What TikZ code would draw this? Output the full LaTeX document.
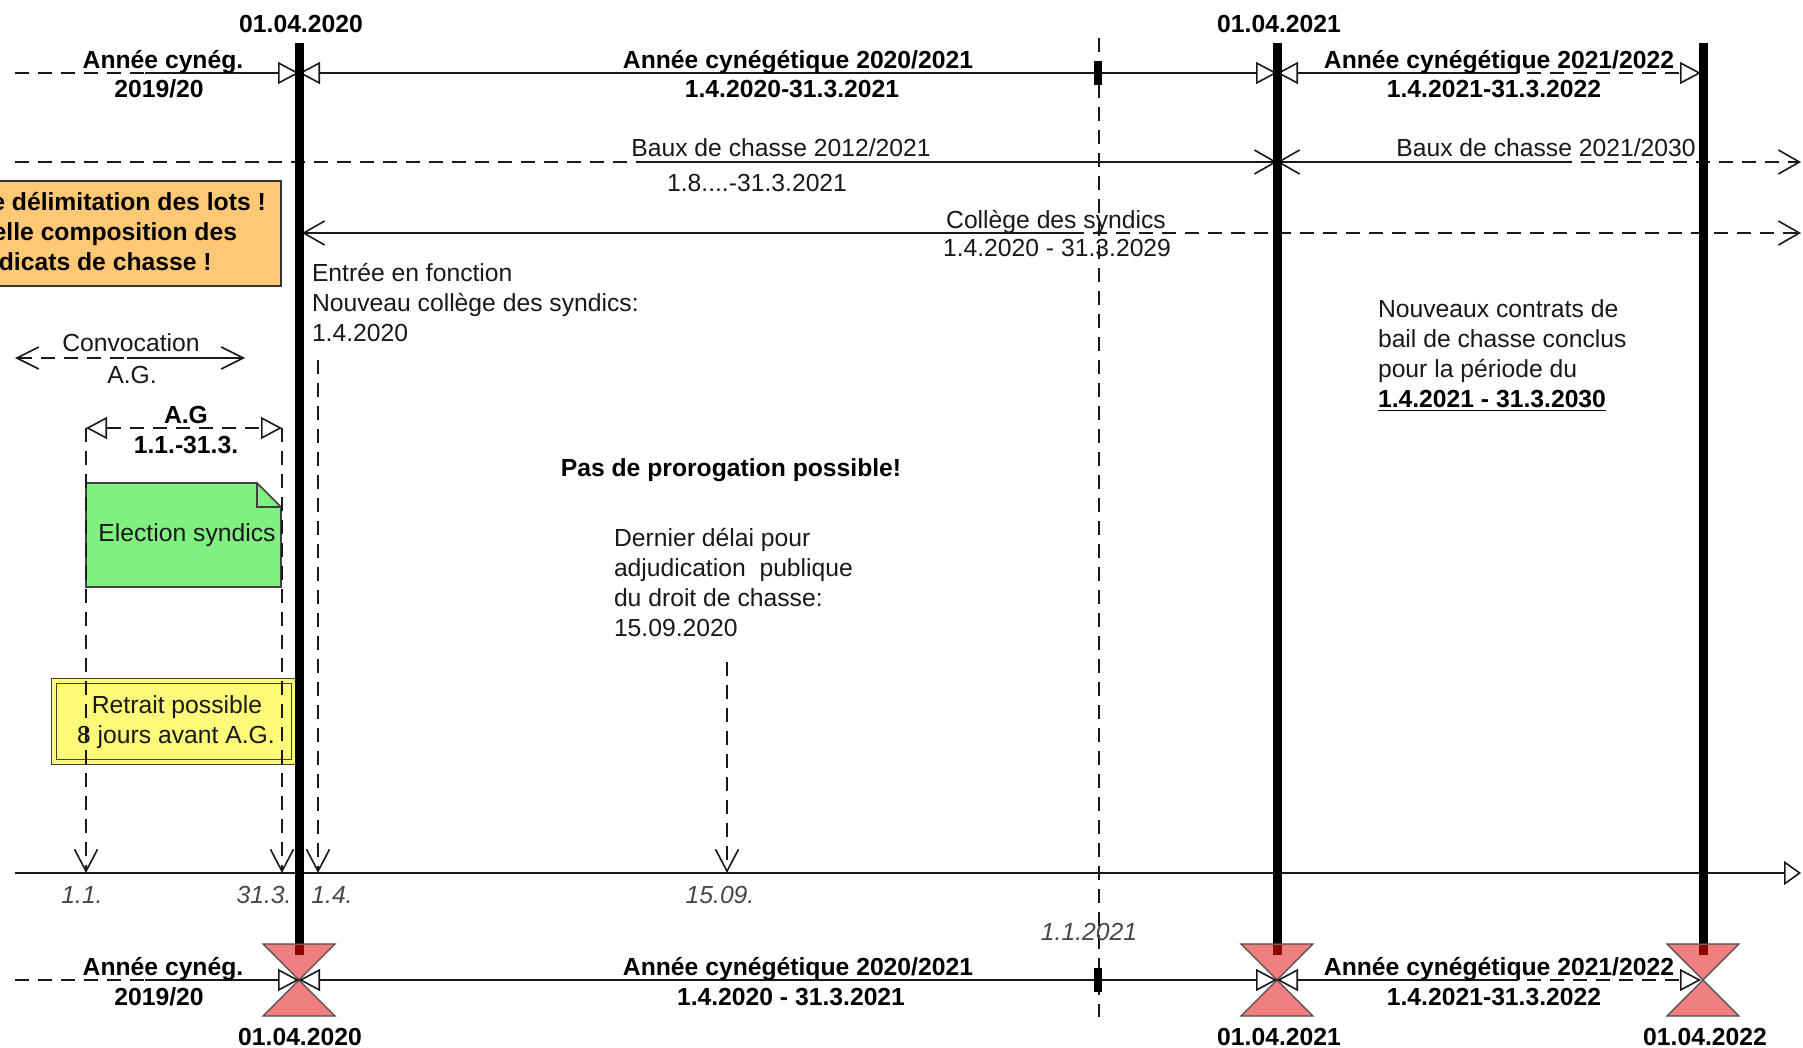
\documentclass[tikz,border=0pt]{standalone}
\usepackage{fontspec}
\setmainfont{Liberation Sans}
\usetikzlibrary{arrows.meta,calc}
\definecolor{orfill}{RGB}{255,200,117}
\definecolor{grfill}{RGB}{128,240,128}
\definecolor{yefill}{RGB}{252,250,120}
\definecolor{hgfill}{RGB}{240,128,128}
\definecolor{darkbar}{RGB}{140,0,0}
\definecolor{txt}{RGB}{25,25,25}
\tikzset{
  every node/.style={inner sep=0pt, outer sep=0pt, text=txt},
  reg/.style={font=\fontsize{24.7}{30}\selectfont, anchor=base},
  regw/.style={reg, anchor=base west},
  bld/.style={font=\fontsize{24.7}{30}\selectfont\bfseries, anchor=base, text=black},
  itl/.style={font=\fontsize{24.7}{30}\selectfont\itshape, anchor=base, text=black!72},
  ln/.style={line width=1.6pt, draw=black!90},
  dsh/.style={ln, dash pattern=on 14pt off 9pt},
  bar/.style={line width=9pt, draw=black},
  boxline/.style={line width=1.6pt, draw=black!80},
  OTri/.tip={Triangle[length=21pt,width=22pt,fill=white]},
  OBarb/.tip={Straight Barb[length=21pt,width=24pt]},
  VBarb/.tip={Straight Barb[length=22pt,width=23pt]},
  ATri/.tip={Triangle[length=17pt,width=24pt,fill=white]},
}
\begin{document}
\begin{tikzpicture}[x=1pt,y=-1pt]
\useasboundingbox (0,0) rectangle (1803,1048);
\clip (0,0) rectangle (1803,1048);
\fill[white] (0,0) rectangle (1803,1048);

% ---------- boxes ----------
\node[boxline, fill=orfill, minimum width=395pt, minimum height=105pt] (orange) at (83.5,233.5) {};
\path[boxline, draw=black!75, fill=grfill] (86,483) -- (257,483) -- (281,507) -- (281,587) -- (86,587) -- cycle;
\draw[line width=1.4pt, draw=black!75] (257,483) -- (257,507) -- (281,507);
\node[draw=black!75, line width=1.4pt, double=yefill, double distance=3.5pt, fill=yefill,
      minimum width=240pt, minimum height=81pt] (yellow) at (174,721.5) {};

% ---------- coordinates ----------
\coordinate (v1t) at (299,43);  \coordinate (v1b) at (299,944);
\coordinate (v2t) at (1277,43); \coordinate (v2b) at (1277,944);
\coordinate (v3t) at (1703,43); \coordinate (v3b) at (1703,944);

\coordinate (r1a) at (15,73);  \coordinate (r1b) at (145,73);  \coordinate (r1c) at (299,73);
\coordinate (r1d) at (1277,73); \coordinate (r1e) at (1504,73); \coordinate (r1f) at (1701,73);

\coordinate (r2a) at (15,162);  \coordinate (r2b) at (640,162); \coordinate (r2c) at (1277,162);
\coordinate (r2d) at (1558,162); \coordinate (r2e) at (1801,162);

\coordinate (r3a) at (302,233); \coordinate (r3b) at (1070,233); \coordinate (r3c) at (1801,233);

\coordinate (r4a) at (15,980);  \coordinate (r4b) at (145,980);  \coordinate (r4c) at (299,980);
\coordinate (r4d) at (1277,980); \coordinate (r4e) at (1504,980); \coordinate (r4f) at (1701,980);

\coordinate (axa) at (15,873); \coordinate (axb) at (1801,873);
\coordinate (cva) at (15,358); \coordinate (cvm) at (127,358); \coordinate (cvb) at (245,358);
\coordinate (aga) at (86,428); \coordinate (agb) at (282,428);
\coordinate (ax1) at (86,873); \coordinate (ax2) at (282,873);
\coordinate (ef) at (318,360); \coordinate (ax3) at (318,873);
\coordinate (d15) at (727,662); \coordinate (ax4) at (727,873);
\coordinate (j1t) at (1099,38); \coordinate (j1b) at (1099,1017);

% ---------- thin dashed marker 1.1.2021 ----------
\draw[dsh, line width=1.3pt] (j1t) -- (j1b);

% ---------- row 1 ----------
\draw[dsh] (r1a) -- (r1b);
\draw[ln,-OTri] (r1b) -- (r1c);
\draw[ln,OTri-OTri] (r1c) -- (r1d);
\draw[ln,OTri-] (r1d) -- (r1e);
\draw[dsh,-OTri] (r1e) -- (r1f);

% ---------- row 2 ----------
\draw[dsh] (r2a) -- (r2b);
\draw[ln,-OBarb] (r2b) -- (r2c);
\draw[ln,OBarb-] (r2c) -- (r2d);
\draw[dsh,-OBarb] (r2d) -- (r2e);

% ---------- row 3 ----------
\draw[ln,OBarb-] (r3a) -- (r3b);
\draw[dsh,-OBarb] (r3b) -- (r3c);

% ---------- convocation / A.G ----------
\draw[dsh,{Straight Barb[length=22pt,width=22pt]}-] (cva) -- (cvm);
\draw[ln,-{Straight Barb[length=22pt,width=22pt]}] (cvm) -- (cvb);
\draw[dsh,OTri-OTri] (aga) -- (agb);
\draw[dsh,-VBarb] (aga) -- (ax1);
\draw[dsh,-VBarb] (agb) -- (ax2);
\draw[dsh,-VBarb] (ef) -- (ax3);
\draw[dsh,-VBarb] (d15) -- (ax4);

% ---------- axis ----------
\draw[ln,-ATri] (axa) -- (axb);

% ---------- thick bars ----------
\draw[bar] (v1t) -- (v1b);
\draw[bar] (v2t) -- (v2b);
\draw[bar] (v3t) -- (v3b);

% ---------- hourglasses ----------
\foreach \hx in {299,1277,1703} {
  \path[draw=black!70, line width=1.2pt, fill=hgfill] ({\hx-36},944) -- ({\hx+36},944) -- (\hx,980) -- cycle;
  \path[draw=black!70, line width=1.2pt, fill=hgfill] (\hx,980) -- ({\hx-36},1016) -- ({\hx+36},1016) -- cycle;
  \draw[line width=9pt, draw=darkbar] (\hx,944.8) -- (\hx,955);
}

% ---------- row 4 ----------
\draw[dsh] (r4a) -- (r4b);
\draw[ln,-OTri] (r4b) -- (r4c);
\draw[ln,OTri-OTri] (r4c) -- (r4d);
\draw[ln,OTri-] (r4d) -- (r4e);
\draw[dsh,-OTri] (r4e) -- (r4f);

% ---------- black marks ----------
\node[fill=black, minimum width=8pt, minimum height=24pt] (mk1) at (1098,73) {};
\node[fill=black, minimum width=8pt, minimum height=24pt] (mk2) at (1098,980) {};

% ---------- texts ----------
\node[bld] (d1) at (301,32.5) {01.04.2020};
\node[bld] (d2) at (1279,32.5) {01.04.2021};

\node[bld] (t1a) at (163,68.5) {Année cynég.};
\node[bld] (t1b) at (159,97.5) {2019/20};
\node[bld] (t2a) at (798,68.5) {Année cynégétique 2020/2021};
\node[bld] (t2b) at (792,97.5) {1.4.2020-31.3.2021};
\node[bld] (t3a) at (1499,68.5) {Année cynégétique 2021/2022};
\node[bld] (t3b) at (1494,97.5) {1.4.2021-31.3.2022};

\node[reg] (b1a) at (781,156.5) {Baux de chasse 2012/2021};
\node[reg] (b1b) at (757,191.5) {1.8....-31.3.2021};
\node[reg] (b2a) at (1546,156.5) {Baux de chasse 2021/2030};
\node[reg] (c1a) at (1056,228.5) {Collège des syndics};
\node[reg] (c1b) at (1057,256.5) {1.4.2020 - 31.3.2029};

\node[bld] (o1) at (84,210.5) {Nouvelle délimitation des lots !};
\node[bld] (o2) at (84,240.5) {Nouvelle composition des};
\node[bld] (o3) at (84,270.5) {syndicats de chasse !};

\node[regw] (e1) at (312,281.5) {Entrée en fonction};
\node[regw] (e2) at (312,311.5) {Nouveau collège des syndics:};
\node[regw] (e3) at (312,341.5) {1.4.2020};

\node[reg] (cv1) at (131,351.5) {Convocation};
\node[reg] (cv2) at (132,383.5) {A.G.};
\node[bld] (ag1) at (186,423.5) {A.G};
\node[bld] (ag2) at (186,453.5) {1.1.-31.3.};

\node[reg] (el) at (187,541.5) {Election syndics};
\node[reg] (y1) at (177,713.5) {Retrait possible};
\node[reg] (y2) at (176,743.5) {8 jours avant A.G.};

\node[bld] (pp) at (731,476.5) {Pas de prorogation possible!};
\node[regw] (dd1) at (614,546.5) {Dernier délai pour};
\node[regw] (dd2) at (614,576.5) {adjudication\ \ publique};
\node[regw] (dd3) at (614,606.5) {du droit de chasse:};
\node[regw] (dd4) at (614,636.5) {15.09.2020};

\node[regw] (nc1) at (1378,317.5) {Nouveaux contrats de};
\node[regw] (nc2) at (1378,347.5) {bail de chasse conclus};
\node[regw] (nc3) at (1378,377.5) {pour la période du};
\node[bld, anchor=base west] (nc4) at (1378,407.5) {1.4.2021 - 31.3.2030};
\draw[line width=1.6pt] ($(nc4.base west)+(0,3)$) -- ($(nc4.base east)+(0,3)$);

\node[itl] (i1) at (82,903.5) {1.1.};
\node[itl] (i2) at (264,903.5) {31.3.};
\node[itl] (i3) at (332,903.5) {1.4.};
\node[itl] (i4) at (720,903.5) {15.09.};
\node[itl] (i5) at (1089,940.5) {1.1.2021};

\node[bld] (t4a) at (163,975.5) {Année cynég.};
\node[bld] (t4b) at (159,1005.5) {2019/20};
\node[bld] (t5a) at (798,975.5) {Année cynégétique 2020/2021};
\node[bld] (t5b) at (791,1005.5) {1.4.2020 - 31.3.2021};
\node[bld] (t6a) at (1499,975.5) {Année cynégétique 2021/2022};
\node[bld] (t6b) at (1494,1005.5) {1.4.2021-31.3.2022};

\node[bld] (d3) at (300,1045) {01.04.2020};
\node[bld] (d4) at (1279,1045) {01.04.2021};
\node[bld] (d5) at (1705,1045) {01.04.2022};
\end{tikzpicture}
\end{document}
